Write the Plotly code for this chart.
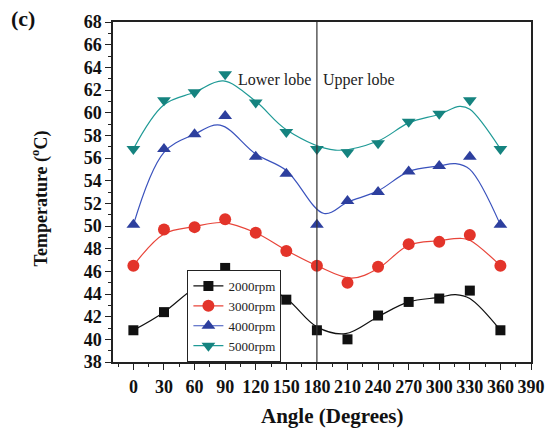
import plotly.graph_objects as go

angles = [0, 30, 60, 90, 120, 150, 180, 210, 240, 270, 300, 330, 360]
rpm2000 = [40.8, 42.4, 44.5, 46.3, 44.9, 43.5, 40.8, 40.0, 42.1, 43.3, 43.6, 44.3, 40.8]
rpm3000 = [46.5, 49.7, 49.9, 50.6, 49.4, 47.8, 46.5, 45.0, 46.4, 48.4, 48.6, 49.2, 46.5]
rpm4000 = [50.1, 56.8, 58.1, 59.7, 56.1, 54.6, 50.1, 52.2, 53.0, 54.8, 55.3, 56.1, 50.1]
rpm5000 = [56.8, 61.1, 61.8, 63.4, 60.9, 58.3, 56.8, 56.5, 57.3, 59.2, 59.9, 61.1, 56.8]

# smoothed fit curves
fit2000_x = [0, 30, 60, 92, 120, 150, 180, 208, 240, 270, 300, 316, 330, 360]
fit2000_y = [40.8, 42.4, 44.5, 45.8, 45.0, 43.6, 41.1, 40.5, 42.0, 43.3, 43.7, 43.95, 43.6, 40.8]
fit3000_x = [0, 30, 60, 88, 120, 150, 180, 214, 240, 270, 300, 321, 330, 360]
fit3000_y = [46.5, 49.3, 49.95, 50.3, 49.4, 47.85, 46.5, 45.4, 46.25, 48.3, 48.7, 48.9, 48.75, 46.5]
fit4000_x = [0, 30, 60, 85, 120, 150, 187, 210, 240, 270, 300, 316, 330, 360]
fit4000_y = [50.1, 56.5, 58.1, 58.9, 56.35, 54.9, 51.1, 52.1, 53.1, 54.8, 55.3, 55.5, 55.0, 50.1]
fit5000_x = [0, 30, 60, 88, 120, 150, 198, 240, 270, 300, 320, 330, 360]
fit5000_y = [56.8, 60.7, 61.8, 62.8, 61.0, 58.5, 56.7, 57.5, 59.1, 59.86, 60.56, 60.3, 56.8]

names = ["2000rpm", "3000rpm", "4000rpm", "5000rpm"]
colors = ["#111111", "#e3342a", "#2d3f9e", "#15837f"]
line_colors = ["#111111", "#e8453a", "#3a52bd", "#1f9a96"]
symbols = ["square", "circle", "triangle-up", "triangle-down"]
msizes = [10, 12, 12, 12]

points = [rpm2000, rpm3000, rpm4000, rpm5000]
fits = [(fit2000_x, fit2000_y), (fit3000_x, fit3000_y), (fit4000_x, fit4000_y), (fit5000_x, fit5000_y)]

FONT = "Liberation Serif"
fig = go.Figure()

for i in range(4):
    fx, fy = fits[i]
    fig.add_trace(go.Scatter(x=fx, y=fy, mode="lines", line=dict(color=line_colors[i], width=1.2, shape="spline", smoothing=1.0),
                             showlegend=False, hoverinfo="skip"))
    fig.add_trace(go.Scatter(x=angles, y=points[i], mode="markers",
                             marker=dict(symbol=symbols[i], size=msizes[i], color=colors[i], line=dict(width=0)),
                             showlegend=False))

for i in range(4):
    fig.add_trace(go.Scatter(x=[None], y=[None], mode="lines+markers", name=names[i],
                             line=dict(color=line_colors[i], width=1.2),
                             marker=dict(symbol=symbols[i], size=msizes[i], color=colors[i], line=dict(width=0))))

# vertical divider
fig.add_shape(type="line", x0=180, x1=180, y0=38, y1=68, xref="x", yref="y",
              line=dict(color="#333333", width=1.2))

fig.add_annotation(x=180, y=62.9, text="Lower lobe", showarrow=False, xanchor="right", xshift=-4,
                   font=dict(family=FONT, size=16, color="#222"))
fig.add_annotation(x=180, y=62.9, text="Upper lobe", showarrow=False, xanchor="left", xshift=4,
                   font=dict(family=FONT, size=16, color="#222"))

fig.add_annotation(xref="paper", yref="paper", x=-0.25, y=1, yanchor="middle", xanchor="left", yshift=4,
                   text="<b>(c)</b>", showarrow=False, font=dict(family=FONT, size=22, color="#111"))
fig.add_annotation(xref="paper", yref="paper", x=-0.174, y=0.482, textangle=-90, xanchor="center", yanchor="middle",
                   text="<b>Temperature (<sup>o</sup>C)</b>", showarrow=False,
                   font=dict(family=FONT, size=18, color="#111"))
fig.add_annotation(xref="paper", yref="paper", x=0.523, y=0, xanchor="center", yanchor="middle", yshift=-54,
                   text="<b>Angle (Degrees)</b>", showarrow=False,
                   font=dict(family=FONT, size=21, color="#111"))

axis_common = dict(showgrid=False, zeroline=False, linecolor="#222", linewidth=1.5,
                   tickcolor="#222", tickwidth=1.2, ticks="outside")

fig.update_xaxes(range=[-20, 390], tickvals=list(range(0, 391, 30)), ticklen=6,
                 ticklabelstandoff=2,
                 minor=dict(dtick=15, tick0=0, ticklen=3, ticks="outside", tickcolor="#222"),
                 tickfont=dict(family=FONT, size=18, color="#111", weight="bold"),
                 mirror=True, **axis_common)
fig.update_yaxes(range=[38, 68], dtick=2, ticklen=6,
                 minor=dict(dtick=1, ticklen=3, ticks="outside", tickcolor="#222"),
                 tickfont=dict(family=FONT, size=18, color="#111", weight="bold"),
                 mirror=True, **axis_common)

fig.update_layout(
    width=557, height=431,
    margin=dict(l=113, r=23, t=20, b=69),
    paper_bgcolor="white", plot_bgcolor="white",
    showlegend=True,
    legend=dict(x=0.178, y=0.0, xanchor="left", yanchor="bottom",
                bordercolor="#222", borderwidth=1, bgcolor="white",
                font=dict(family=FONT, size=13, color="#222"),
                tracegroupgap=0, itemwidth=30),
)

fig.write_html("out.html")
